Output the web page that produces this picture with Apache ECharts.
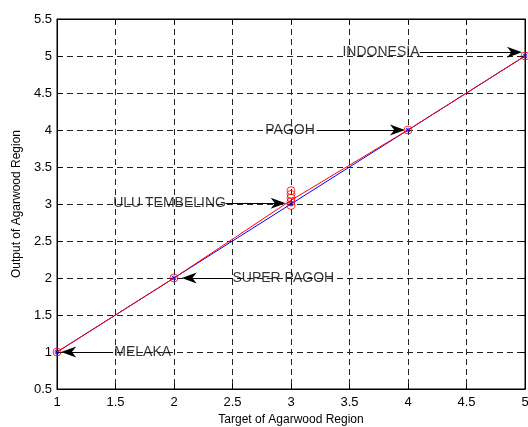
<!DOCTYPE html>
<html>
<head>
<meta charset="utf-8">
<script src="https://cdn.jsdelivr.net/npm/echarts@6/dist/echarts.min.js"></script>
<style>
  html, body { margin: 0; padding: 0; background: #fff; overflow: hidden; }
  #chart { width: 528px; height: 427px; }
</style>
</head>
<body>
<div id="chart"></div>
<script>
// Target regions and their ideal output (blue reference line)
const targets = [1, 2, 3, 4, 5];
const idealOutput = [1, 2, 3, 4, 5];
// Mean network output per region (red line)
const meanOutput = [1, 2, 3.05, 4, 5];
// Individual network outputs (red circles)
const sampleX = [1, 2, 3, 3, 3, 3, 3, 4, 5];
const sampleY = [1, 2, 2.98, 3.03, 3.08, 3.13, 3.18, 4, 5];

// Region annotations: label text, label anchor, arrow tail and arrow head centre
const regionNames = ['MELAKA', 'SUPER PAGOH', 'ULU TEMBELING', 'PAGOH', 'INDONESIA'];
const labelAnchor = [[1.49, 1], [2.5, 2], [1.48, 3.01], [2.78, 4], [3.44, 5.05]];
const arrowTail = [[1.48, 1], [2.5, 2], [2.44, 3.01], [3.22, 4], [4.1, 5.05]];
const arrowHead = [[1.1, 1], [2.13, 2], [2.89, 3.01], [3.91, 4], [4.91, 5.05]];

const font = 'Liberation Sans, Arial, Helvetica, sans-serif';
const chart = echarts.init(document.getElementById('chart'), null, { renderer: 'canvas', width: 528, height: 427 });

const gridDash = { show: true, lineStyle: { color: '#222', width: 1, type: [6, 4] } };
const tickIn = { show: true, inside: true, length: 5, lineStyle: { color: '#000' } };

const option = {
  animation: false,
  backgroundColor: '#fff',
  grid: {
    left: 57, right: 3, top: 19, bottom: 38,
    outerBoundsMode: 'none', containLabel: false,
    show: true, borderColor: '#000', borderWidth: 1
  },
  xAxis: [{
    type: 'value', min: 1, max: 5, interval: 0.5,
    name: 'Target of Agarwood Region', nameLocation: 'middle', nameGap: 24,
    nameTextStyle: { fontFamily: font, fontSize: 12, color: '#000' },
    axisLine: { show: true, onZero: false, lineStyle: { color: '#000', width: 1 } },
    axisTick: tickIn,
    axisLabel: { fontFamily: font, fontSize: 13, color: '#000', margin: 7, hideOverlap: false },
    splitLine: gridDash
  }, {
    type: 'value', min: 1, max: 5, interval: 0.5, position: 'top',
    axisLine: { show: true, lineStyle: { color: '#000' } },
    axisTick: tickIn, axisLabel: { show: false }, splitLine: { show: false }
  }],
  yAxis: [{
    type: 'value', min: 0.5, max: 5.5, interval: 0.5,
    name: 'Output of Agarwood Region', nameLocation: 'middle', nameGap: 34,
    nameTextStyle: { fontFamily: font, fontSize: 12, color: '#000' },
    axisLine: { show: true, onZero: false, lineStyle: { color: '#000', width: 1 } },
    axisTick: tickIn,
    axisLabel: { fontFamily: font, fontSize: 13, color: '#000', margin: 5 },
    splitLine: gridDash
  }, {
    type: 'value', min: 0.5, max: 5.5, interval: 0.5, position: 'right',
    axisLine: { show: true, lineStyle: { color: '#000' } },
    axisTick: tickIn, axisLabel: { show: false }, splitLine: { show: false }
  }],
  series: [
    {
      name: 'ideal', type: 'line',
      data: targets.map((x, i) => [x, idealOutput[i]]),
      lineStyle: { color: '#0000ff', width: 1 },
      symbol: 'path://M0,5L10,5M5,0L5,10M1.5,1.5L8.5,8.5M8.5,1.5L1.5,8.5', symbolSize: 5,
      itemStyle: { color: 'none', borderColor: '#0000ff', borderWidth: 1 },
      z: 2
    },
    {
      name: 'mean', type: 'line',
      data: targets.map((x, i) => [x, meanOutput[i]]),
      lineStyle: { color: '#ff0000', width: 1 },
      symbol: 'none', z: 3
    },
    {
      name: 'samples', type: 'scatter',
      data: sampleX.map((x, i) => [x, sampleY[i]]),
      symbol: 'circle', symbolSize: 8,
      itemStyle: { color: 'rgba(0,0,0,0)', borderColor: '#ff0000', borderWidth: 1 },
      z: 4
    },
    {
      name: 'labels', type: 'scatter',
      data: regionNames.map((n, i) => ({ value: labelAnchor[i], name: n })),
      symbolSize: 0,
      label: {
        show: true, position: 'right', distance: 0,
        formatter: p => p.name,
        fontFamily: font, fontSize: 14, color: '#000'
      },
      silent: true, z: 5,
      markLine: {
        silent: true,
        symbol: ['none', 'path://M0,0L5,14L0,10L-5,14Z'],
        symbolSize: [11, 15],
        label: { show: false },
        lineStyle: { color: '#000', width: 1, type: 'solid' },
        itemStyle: { color: '#000' },
        data: arrowTail.map((t, i) => [{ coord: t }, { coord: arrowHead[i] }])
      }
    }
  ]
};
chart.setOption(option);
</script>
</body>
</html>
